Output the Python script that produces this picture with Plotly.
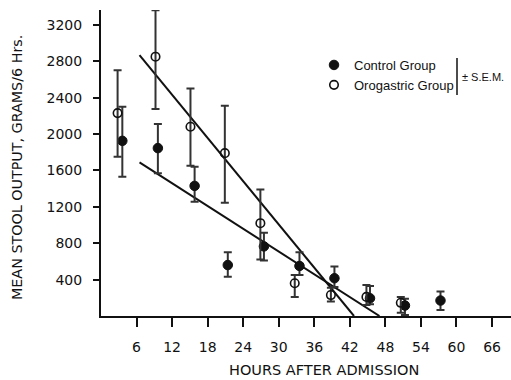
import plotly.graph_objects as go

# Orogastric group (open circles)
oro_hours = [2.8, 9.2, 15.1, 20.9, 26.9, 32.7, 38.8, 44.8, 50.6]
oro_mean = [2230, 2850, 2080, 1790, 1020, 360, 230, 210, 145]
oro_upper = [2700, 3360, 2500, 2310, 1390, 450, 310, 340, 210]
oro_lower = [1750, 2275, 1650, 1245, 620, 210, 160, 120, 35]

# Control group (filled circles)
ctl_hours = [3.6, 9.6, 15.8, 21.4, 27.5, 33.5, 39.4, 45.4, 51.3, 57.3]
ctl_mean = [1925, 1845, 1430, 560, 765, 550, 415, 195, 115, 170]
ctl_upper = [2300, 2110, 1640, 700, 915, 700, 545, 330, 190, 270]
ctl_lower = [1530, 1570, 1255, 430, 610, 450, 320, 130, 10, 65]

# Regression lines (endpoints)
oro_line_x = [6.5, 42.7]
oro_line_y = [2868, 0]
ctl_line_x = [6.5, 47.0]
ctl_line_y = [1689, 0]

x_ticks = [6, 12, 18, 24, 30, 36, 42, 48, 54, 60, 66]
y_ticks = [400, 800, 1200, 1600, 2000, 2400, 2800, 3200]

INK = "#111111"

fig = go.Figure()

fig.add_trace(go.Scatter(x=oro_line_x, y=oro_line_y, mode="lines",
                         line=dict(color=INK, width=2), showlegend=False, hoverinfo="skip"))
fig.add_trace(go.Scatter(x=ctl_line_x, y=ctl_line_y, mode="lines",
                         line=dict(color=INK, width=2), showlegend=False, hoverinfo="skip"))

fig.add_trace(go.Scatter(
    x=ctl_hours, y=ctl_mean, mode="markers", name="Control Group",
    marker=dict(symbol="circle", size=9.5, color=INK, line=dict(color=INK, width=1)),
    error_y=dict(type="data", symmetric=False,
                 array=[u - m for u, m in zip(ctl_upper, ctl_mean)],
                 arrayminus=[m - l for m, l in zip(ctl_mean, ctl_lower)],
                 color="#333333", thickness=2, width=4),
))
fig.add_trace(go.Scatter(
    x=oro_hours, y=oro_mean, mode="markers", name="Orogastric Group",
    marker=dict(symbol="circle-open", size=8.5, color=INK, line=dict(color=INK, width=1.6)),
    error_y=dict(type="data", symmetric=False,
                 array=[u - m for u, m in zip(oro_upper, oro_mean)],
                 arrayminus=[m - l for m, l in zip(oro_mean, oro_lower)],
                 color="#333333", thickness=2, width=4),
))

L, R, T, B = 101, 0, 10, 64
W, H = 511, 380
pw, ph = W - L - R, H - T - B

def px_x(p):
    return (p - L) / pw

def px_y(p):
    return (H - B - p) / ph

fig.update_layout(
    width=W, height=H,
    margin=dict(l=L, r=R, t=T, b=B, autoexpand=False),
    paper_bgcolor="white", plot_bgcolor="white",
    font=dict(family="DejaVu Sans", color=INK),
    showlegend=True,
    legend=dict(x=px_x(314), y=px_y(50), xanchor="left", yanchor="top",
                bgcolor="rgba(0,0,0,0)", font=dict(family="Liberation Sans", size=13, color=INK),
                itemwidth=30, tracegroupgap=0),
    xaxis=dict(range=[0, 69.2], tickvals=x_ticks, ticktext=[str(v) for v in x_ticks],
               automargin=False,
               showgrid=False, zeroline=False, showline=True, linecolor=INK, linewidth=2,
               ticks="outside", ticklen=9, tickwidth=2, tickcolor=INK,
               ticklabelstandoff=8,
               tickfont=dict(family="DejaVu Sans", size=14, color=INK)),
    yaxis=dict(range=[0, 3363], tickvals=y_ticks, ticktext=[str(v) for v in y_ticks],
               automargin=False,
               showgrid=False, zeroline=False, showline=True, linecolor=INK, linewidth=2,
               ticks="outside", ticklen=6, tickwidth=2, tickcolor=INK,
               ticklabelstandoff=8,
               tickfont=dict(family="DejaVu Sans", size=14, color=INK)),
)

fig.add_annotation(text="MEAN STOOL OUTPUT, GRAMS/6 Hrs.", xref="paper", yref="paper",
                   x=px_x(17), y=px_y(168), textangle=-90, showarrow=False,
                   xanchor="center", yanchor="middle",
                   font=dict(family="DejaVu Sans", size=14.3, color=INK))
fig.add_annotation(text="HOURS AFTER ADMISSION", xref="paper", yref="paper",
                   x=px_x(324), y=px_y(370), showarrow=False,
                   xanchor="center", yanchor="middle",
                   font=dict(family="DejaVu Sans", size=14.5, color=INK))
fig.add_annotation(text="± S.E.M.", xref="paper", yref="paper",
                   x=px_x(460), y=px_y(77), showarrow=False,
                   xanchor="left", yanchor="middle",
                   font=dict(family="Liberation Sans", size=11, color=INK))
fig.add_shape(type="line", xref="paper", yref="paper",
              x0=px_x(457), x1=px_x(457), y0=px_y(58), y1=px_y(95),
              line=dict(color=INK, width=1.5))

fig.write_html("out.html", config={"displayModeBar": False},
               post_script="document.body.style.margin='0';")
